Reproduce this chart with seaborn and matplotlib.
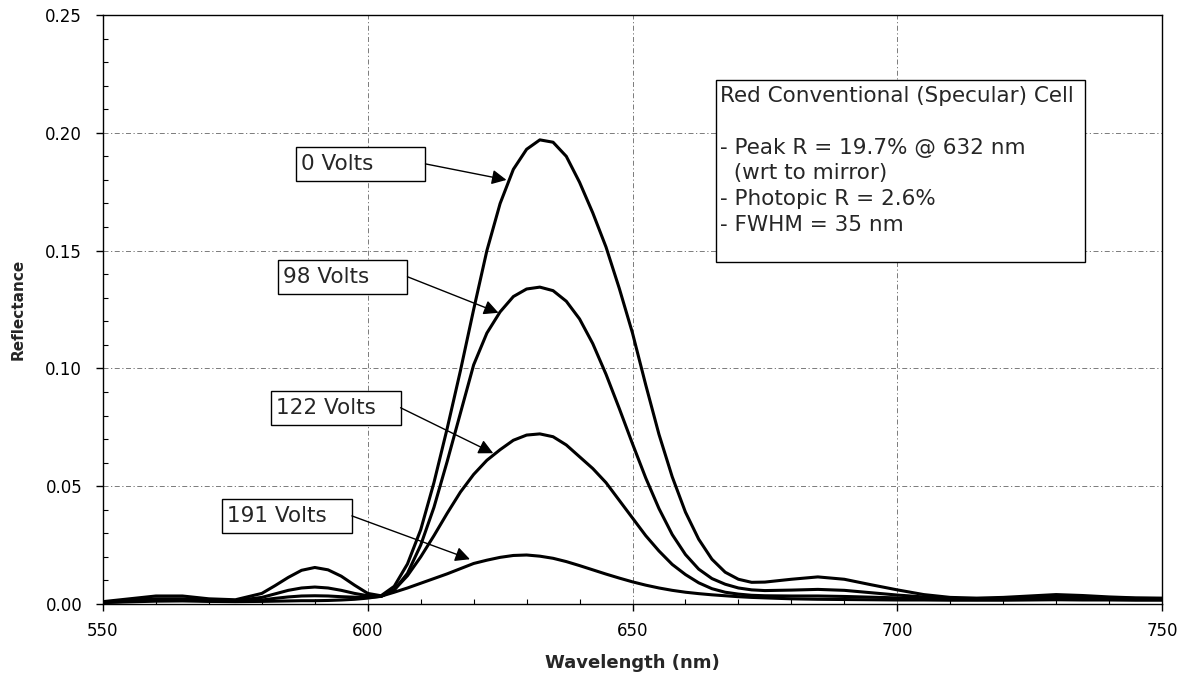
import matplotlib
matplotlib.use("Agg")
import matplotlib.pyplot as plt
import numpy as np
import pandas as pd
import seaborn as sns
from matplotlib.patches import Rectangle
from matplotlib.ticker import MultipleLocator, FormatStrFormatter

# ---------------- data ----------------
wavelength = [550, 555, 560, 565, 570, 575, 580, 582.5, 585, 587.5, 590, 592.5, 595, 597.5,
              600, 602.5, 605, 607.5, 610, 612.5, 615, 617.5, 620, 622.5, 625, 627.5,
              630, 632.5, 635, 637.5, 640, 642.5, 645, 647.5, 650, 652.5, 655, 657.5,
              660, 662.5, 665, 667.5, 670, 672.5, 675, 680, 685, 690, 695, 700, 705,
              710, 715, 720, 725, 730, 735, 740, 745, 750]

r_0v = [0.0010, 0.0022, 0.0034, 0.0034, 0.0022, 0.0018, 0.0045, 0.0078, 0.0113, 0.0143, 0.0155, 0.0145, 0.0118, 0.0080,
        0.0045, 0.0035, 0.0075, 0.0170, 0.0315, 0.0515, 0.0745, 0.0990, 0.1250, 0.1500, 0.1700, 0.1845,
        0.1930, 0.1970, 0.1960, 0.1900, 0.1790, 0.1660, 0.1515, 0.1340, 0.1150, 0.0930, 0.0720, 0.0540,
        0.0390, 0.0275, 0.0190, 0.0135, 0.0105, 0.0092, 0.0093, 0.0105, 0.0115, 0.0105, 0.0082, 0.0060, 0.0040,
        0.0028, 0.0025, 0.0028, 0.0034, 0.0040, 0.0036, 0.0030, 0.0026, 0.0025]

r_98v = [0.0008, 0.0015, 0.0022, 0.0022, 0.0016, 0.0014, 0.0028, 0.0043, 0.0058, 0.0068, 0.0072, 0.0068, 0.0058, 0.0045,
         0.0035, 0.0032, 0.0060, 0.0130, 0.0250, 0.0410, 0.0605, 0.0810, 0.1015, 0.1150, 0.1240, 0.1305,
         0.1337, 0.1345, 0.1330, 0.1285, 0.1210, 0.1105, 0.0975, 0.0830, 0.0680, 0.0535, 0.0405, 0.0295,
         0.0210, 0.0148, 0.0108, 0.0084, 0.0068, 0.0060, 0.0057, 0.0059, 0.0062, 0.0058, 0.0048, 0.0038, 0.0030,
         0.0024, 0.0022, 0.0024, 0.0028, 0.0031, 0.0029, 0.0026, 0.0024, 0.0023]

r_122v = [0.0007, 0.0012, 0.0018, 0.0018, 0.0013, 0.0012, 0.0017, 0.0024, 0.0030, 0.0034, 0.0035, 0.0034, 0.0031, 0.0029,
          0.0028, 0.0032, 0.0060, 0.0120, 0.0200, 0.0290, 0.0385, 0.0475, 0.0550, 0.0610, 0.0655, 0.0695,
          0.0717, 0.0722, 0.0710, 0.0675, 0.0625, 0.0575, 0.0515, 0.0440, 0.0365, 0.0290, 0.0225, 0.0168,
          0.0125, 0.0090, 0.0065, 0.0050, 0.0042, 0.0037, 0.0035, 0.0034, 0.0034, 0.0032, 0.0029, 0.0026, 0.0022,
          0.0020, 0.0019, 0.0020, 0.0022, 0.0024, 0.0023, 0.0021, 0.0020, 0.0020]

r_191v = [0.0006, 0.0009, 0.0012, 0.0013, 0.0011, 0.0010, 0.0011, 0.0012, 0.0013, 0.0014, 0.0014, 0.0015, 0.0017, 0.0020,
          0.0025, 0.0033, 0.0050, 0.0068, 0.0088, 0.0108, 0.0128, 0.0150, 0.0172, 0.0186, 0.0198, 0.0206,
          0.0208, 0.0203, 0.0194, 0.0180, 0.0163, 0.0145, 0.0127, 0.0110, 0.0094, 0.0080, 0.0068, 0.0058,
          0.0050, 0.0044, 0.0039, 0.0035, 0.0031, 0.0028, 0.0026, 0.0022, 0.0020, 0.0019, 0.0018, 0.0017, 0.0017,
          0.0016, 0.0016, 0.0016, 0.0017, 0.0018, 0.0017, 0.0017, 0.0016, 0.0016]

series_names = ["0 Volts", "98 Volts", "122 Volts", "191 Volts"]

x_ticks = [550, 600, 650, 700, 750]
y_ticks = [0.00, 0.05, 0.10, 0.15, 0.20, 0.25]

info_title = "Red Conventional (Specular) Cell"
info_lines = ["- Peak R = 19.7% @ 632 nm", "  (wrt to mirror)", "- Photopic R = 2.6%", "- FWHM = 35 nm"]

x_label = "Wavelength (nm)"
y_label = "Reflectance"

# ---------------- layout helpers ----------------
W, H = 1186, 677
def fx(px):
    return px / W
def fy(py):
    return 1 - py / H

df = pd.DataFrame({
    "wavelength": wavelength * 4,
    "reflectance": r_0v + r_98v + r_122v + r_191v,
    "series": sum([[n] * len(wavelength) for n in series_names], []),
})

sns.set_style("ticks")
plt.rcParams["font.family"] = ["DejaVu Sans"]

fig = plt.figure(figsize=(W / 100, H / 100), dpi=100)
ax = fig.add_axes([fx(103), fy(604), fx(1162) - fx(103), fy(15) - fy(604)])

sns.lineplot(data=df, x="wavelength", y="reflectance", hue="series",
             hue_order=series_names, palette=["black"] * 4, linewidth=2.2,
             legend=False, ax=ax, estimator=None, sort=False)

ax.set_xlim(x_ticks[0], x_ticks[-1])
ax.set_ylim(y_ticks[0], y_ticks[-1])
ax.set_xticks(x_ticks)
ax.set_yticks(y_ticks)
ax.yaxis.set_major_formatter(FormatStrFormatter("%.2f"))
ax.xaxis.set_minor_locator(MultipleLocator(10))
ax.yaxis.set_minor_locator(MultipleLocator(0.01))

ax.set_axisbelow(True)
ax.grid(True, which="major", color="#666666", linestyle=(0, (6, 3, 1.5, 3)), linewidth=0.6)

for s in ax.spines.values():
    s.set_visible(True)
    s.set_color("black")
    s.set_linewidth(1.0)

ax.tick_params(which="major", direction="out", length=5, width=1, labelsize=12, colors="black")
ax.tick_params(axis="y", which="major", pad=10)
ax.tick_params(axis="x", which="major", pad=8)
ax.tick_params(which="minor", direction="in", length=3.5, width=0.8, colors="black")

ax.set_xlabel(x_label, fontsize=13, fontweight="bold")
ax.set_ylabel(y_label, fontsize=11, fontweight="bold")
ax.xaxis.set_label_coords(0.5, (604 - 663) / 589)
ax.xaxis.label.set_va("center")
ax.yaxis.set_label_coords((18.5 - 103) / 1059, 0.5)
ax.yaxis.label.set_va("center")

# ---------------- callout boxes with arrows ----------------
box_w_nm = 24.5
box_h = 0.0146
callouts = [  # (label, box left nm, box bottom value, arrow tip nm, arrow tip value)
    ("0 Volts", 586.4, 0.1795, 626.2, 0.1800),
    ("98 Volts", 583.0, 0.1316, 624.7, 0.1236),
    ("122 Volts", 581.7, 0.0760, 623.7, 0.0640),
    ("191 Volts", 572.5, 0.0301, 619.3, 0.0190),
]
for label, bx, by, tx, ty in callouts:
    ax.add_patch(Rectangle((bx, by), box_w_nm, box_h, facecolor="white",
                           edgecolor="black", linewidth=1.0, zorder=5))
    ax.text(bx + 1.0, by + box_h / 2, label, fontsize=15.5, ha="left", va="center",
            zorder=6)
    ax.annotate("", xy=(tx, ty), xytext=(bx + box_w_nm, by + box_h / 2),
                arrowprops=dict(arrowstyle="-|>", color="black", lw=1.0,
                                mutation_scale=22, shrinkA=0, shrinkB=0),
                zorder=6)

# ---------------- info box ----------------
fig.add_artist(Rectangle((fx(716), fy(262)), fx(1085) - fx(716), fy(80) - fy(262),
                         transform=fig.transFigure, facecolor="white",
                         edgecolor="black", linewidth=1.0, zorder=5))
fig.text(fx(720), fy(96), info_title, fontsize=15.5, ha="left", va="center", zorder=6)
for i, line in enumerate(info_lines):
    fig.text(fx(720), fy(147.5 + 25.8 * i), line, fontsize=15.5, ha="left", va="center", zorder=6)

fig.savefig("out.png", dpi=100)
